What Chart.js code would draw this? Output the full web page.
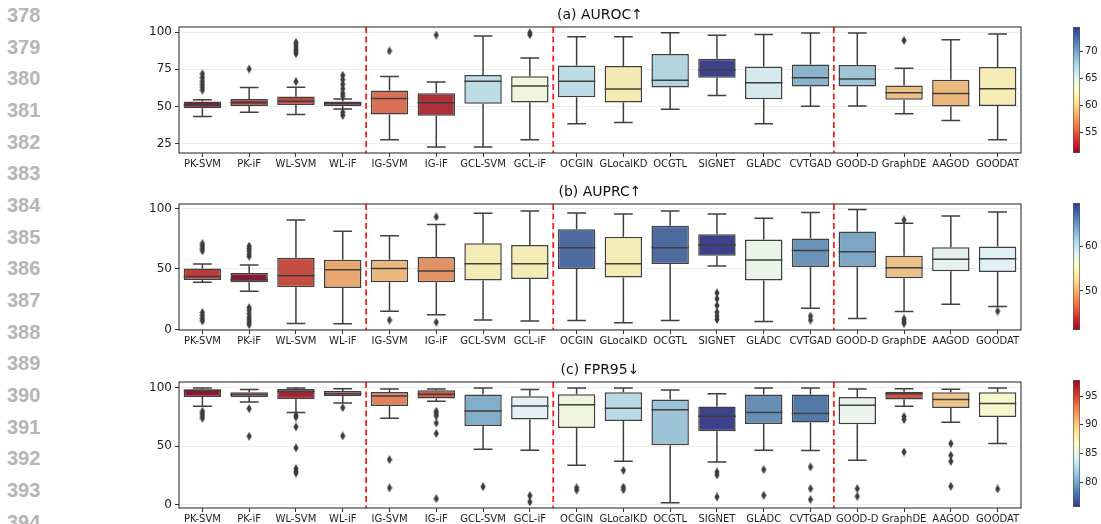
<!DOCTYPE html>
<html lang="en">
<head>
<meta charset="UTF-8">
<title>Box plots</title>
<script src="https://cdn.jsdelivr.net/npm/chart.js"></script>
<style>
  html, body { margin: 0; padding: 0; background: #fff; width: 1101px; height: 524px; overflow: hidden; }
  canvas { position: absolute; }
  .ln { position: absolute; left: 7px; font: bold 20px "Liberation Sans", Arial, sans-serif; color: #b5b5b5; line-height: 20px; }
</style>
</head>
<body>
<canvas id="chartA" width="900" height="175" style="left:130px;top:0px"></canvas>
<canvas id="chartB" width="900" height="175" style="left:130px;top:177px"></canvas>
<canvas id="chartC" width="900" height="175" style="left:130px;top:355px"></canvas>
<canvas id="barA" width="32" height="142" style="left:1073px;top:19px"></canvas>
<canvas id="barB" width="32" height="143" style="left:1073px;top:195px"></canvas>
<canvas id="barC" width="32" height="143" style="left:1073px;top:372px"></canvas>
<script>
// methods on the x axis
const methods = ['PK-SVM', 'PK-iF', 'WL-SVM', 'WL-iF', 'IG-SVM', 'IG-iF', 'GCL-SVM', 'GCL-iF', 'OCGIN', 'GLocalKD',
  'OCGTL', 'SIGNET', 'GLADC', 'CVTGAD', 'GOOD-D', 'GraphDE', 'AAGOD', 'GOODAT'];
// group separators (dashed red lines sit before these indices)
const groupStarts = [4, 8, 14];

// (a) AUROC
const aurocLow = [43.3, 46.2, 44.6, 48.4, 27.7, 22.8, 22.8, 27.7, 38.4, 39.3, 48.2, 57.4, 38.4, 50.2, 50.4, 45.1, 40.6, 27.7];
const aurocQ1 = [48.9, 50.4, 51.1, 50.4, 44.6, 43.8, 51.8, 52.7, 56.3, 52.7, 62.7, 69.4, 54.9, 63.4, 63.4, 54.5, 50.0, 50.4];
const aurocMed = [51.1, 52.7, 53.6, 52.0, 55.4, 52.5, 67.0, 63.8, 67.0, 61.8, 67.6, 74.6, 65.9, 69.4, 68.5, 59.2, 58.7, 62.0];
const aurocQ3 = [53.3, 55.1, 56.7, 53.3, 60.7, 58.9, 71.2, 70.3, 77.5, 77.2, 85.3, 82.1, 76.8, 78.3, 77.9, 64.1, 67.9, 76.6];
const aurocHigh = [54.5, 62.7, 62.9, 55.1, 70.1, 66.5, 97.3, 82.6, 96.9, 96.9, 99.6, 97.8, 98.4, 99.3, 99.3, 75.7, 94.9, 98.7];
const aurocOut = [[72, 69.5, 67, 65, 63, 61], [75.2], [93, 91.5, 90, 88.5, 87, 85.5, 66.7], [71, 68, 65, 62, 59, 57, 46.2, 44],
  [87.3], [98], [], [99.5, 98.2], [], [], [], [], [], [], [], [94.4], [], []];
const aurocTicks = [25, 50, 75, 100];
const aurocBarTicks = [55, 60, 65, 70];

// (b) AUPRC
const auprcLow = [39, 31.6, 4.9, 4.7, 15.1, 12.1, 7.7, 6.9, 7.4, 5.5, 7.4, 52.5, 6.6, 17.6, 9.1, 14.8, 20.9, 19];
const auprcQ1 = [40.9, 39, 34.9, 34.3, 39, 39, 40.4, 41.8, 50, 42.9, 54.1, 61, 40.4, 51.6, 51.4, 42.3, 48.1, 47.5];
const auprcMed = [43.7, 41.2, 44.5, 49.4, 50.5, 48.3, 54.4, 54.4, 67.6, 54.4, 67.6, 69.8, 57.4, 65.4, 64.3, 51.1, 58, 58.5];
const auprcQ3 = [50.5, 46.7, 59.3, 57.7, 57.7, 59.9, 71.4, 69.8, 83, 76.6, 85.7, 78.8, 74.4, 75.3, 81, 61, 68.1, 68.7];
const auprcHigh = [54.1, 53.3, 90.6, 81.3, 77.5, 86.8, 96.1, 98, 96.4, 95.6, 98, 95.6, 92, 96.7, 99.2, 87.9, 93.9, 97.2];
const auprcOut = [[71, 69, 67, 65, 14, 11.5, 9, 7], [69, 67, 65, 62.5, 60.5, 18, 16, 13, 10, 8, 6, 4], [], [], [7.7], [93.1, 6],
  [], [], [], [], [], [30.2, 25.3, 19.8, 14.3, 11, 8.2], [], [11, 7.7], [], [90.6, 8.8, 6.5, 5], [], [15.1]];
const auprcTicks = [0, 50, 100];
const auprcBarTicks = [50, 60];

// (c) FPR95
const fprLow = [84.3, 88, 78.9, 87.1, 74, 88.6, 47.4, 46.6, 33.7, 37.1, 1.7, 36.6, 46.6, 46.3, 38, 84.3, 70.6, 52.3];
const fprQ1 = [92.3, 92.3, 90.3, 93.1, 84.6, 90.9, 67.4, 72.9, 65.7, 71.7, 50.9, 62.9, 69.1, 70.3, 68.9, 90, 82.9, 75.1];
const fprMed = [97.8, 94.3, 97, 95.1, 93, 94.6, 80.3, 84.6, 85.7, 82.6, 81.4, 75.7, 78.9, 78, 85.1, 95, 90, 86.6];
const fprQ3 = [98.9, 96.3, 99.1, 97.4, 96.6, 98, 94.3, 92.9, 94.6, 96.3, 90, 84, 94.3, 94.3, 92.3, 96.8, 96.3, 96.3];
const fprHigh = [100, 98.6, 100, 99.4, 99.1, 99.1, 100, 98.6, 100, 100, 98.3, 95.1, 100, 100, 99.1, 99.4, 98.9, 100];
const fprOut = [[80, 78, 76, 74], [82.3, 58.6], [76.6, 75, 66.6, 48.6, 30.9, 28.6, 27], [83.1, 58.9], [38.6, 14.3],
  [80, 78, 76, 70, 61, 5.1], [15.4], [7.7, 2.3], [14.5, 12.5], [29.4, 15, 12.8], [], [28, 25.5, 6.6], [30, 8],
  [32.3, 13.7, 4.3], [13.7, 7.1], [75.5, 73, 45.1], [52.3, 42.3, 37.1, 15.7], [13.4]];
const fprTicks = [0, 50, 100];
const fprBarTicks = [80, 85, 90, 95];

Chart.defaults.font.family = '"DejaVu Sans", sans-serif';
Chart.defaults.color = '#222';

// RdYlBu colormap
const RDYLBU = ['#a50026', '#d73027', '#f46d43', '#fdae61', '#fee090', '#ffffbf', '#e0f3f8', '#abd9e9', '#74add1', '#4575b4', '#313695'];
function hexRgb(h) { return [1, 3, 5].map(i => parseInt(h.substr(i, 2), 16)); }
function cmap(t) {
    t = Math.max(0, Math.min(1, t));
    const pos = t * 10, i = Math.min(9, Math.floor(pos)), f = pos - i;
    const a = hexRgb(RDYLBU[i]), b = hexRgb(RDYLBU[i + 1]);
    return a.map((v, k) => v + (b[k] - v) * f);
}
// seaborn-like desaturation
function desat(rgb, prop) {
    let [r, g, b] = rgb.map(v => v / 255);
    const mx = Math.max(r, g, b), mn = Math.min(r, g, b);
    const l = (mx + mn) / 2;
    let h = 0, s = 0;
    if (mx !== mn) {
        const d = mx - mn;
        s = l > 0.5 ? d / (2 - mx - mn) : d / (mx + mn);
        if (mx === r) h = (g - b) / d + (g < b ? 6 : 0);
        else if (mx === g) h = (b - r) / d + 2;
        else h = (r - g) / d + 4;
        h /= 6;
    }
    s *= prop;
    function hue(p, q, t) {
        if (t < 0) t += 1; if (t > 1) t -= 1;
        if (t < 1 / 6) return p + (q - p) * 6 * t;
        if (t < 1 / 2) return q;
        if (t < 2 / 3) return p + (q - p) * (2 / 3 - t) * 6;
        return p;
    }
    const q = l < 0.5 ? l * (1 + s) : l + s - l * s, p = 2 * l - q;
    const out = s === 0 ? [l, l, l] : [hue(p, q, h + 1 / 3), hue(p, q, h), hue(p, q, h - 1 / 3)];
    return 'rgb(' + out.map(v => Math.round(v * 255)).join(',') + ')';
}

// thin diamond marker for outliers
function makeDiamond() {
    const c = document.createElement('canvas');
    c.width = 6; c.height = 9;
    const g = c.getContext('2d');
    g.fillStyle = '#3d3d3d';
    g.beginPath();
    g.moveTo(3, 0); g.lineTo(5.6, 4.5); g.lineTo(3, 9); g.lineTo(0.4, 4.5); g.closePath();
    g.fill();
    return c;
}
const diamond = makeDiamond();

const panels = [
    { canvas: 'chartA', bar: 'barA', title: '(a) AUROC\u2191', low: aurocLow, q1: aurocQ1, med: aurocMed, q3: aurocQ3, high: aurocHigh,
      out: aurocOut, ticks: aurocTicks, barTicks: aurocBarTicks, min: 18.8, max: 103.4, reversed: false },
    { canvas: 'chartB', bar: 'barB', title: '(b) AUPRC\u2191', low: auprcLow, q1: auprcQ1, med: auprcMed, q3: auprcQ3, high: auprcHigh,
      out: auprcOut, ticks: auprcTicks, barTicks: auprcBarTicks, min: -0.5, max: 103.8, reversed: false },
    { canvas: 'chartC', bar: 'barC', title: '(c) FPR95\u2193', low: fprLow, q1: fprQ1, med: fprMed, q3: fprQ3, high: fprHigh,
      out: fprOut, ticks: fprTicks, barTicks: fprBarTicks, min: -2.9, max: 105.1, reversed: true }
];

function boxPlugin(p) {
    return {
        id: 'boxExtras',
        beforeDatasetsDraw(chart) {
            const ctx = chart.ctx, y = chart.scales.y;
            const bars = chart.getDatasetMeta(0).data;
            ctx.save();
            ctx.strokeStyle = '#3f3f3f';
            ctx.lineWidth = 1.5;
            bars.forEach((b, i) => {
                const hw = b.width / 4;
                const yl = y.getPixelForValue(p.low[i]), yh = y.getPixelForValue(p.high[i]);
                ctx.beginPath();
                ctx.moveTo(b.x, y.getPixelForValue(p.q1[i])); ctx.lineTo(b.x, yl);
                ctx.moveTo(b.x, y.getPixelForValue(p.q3[i])); ctx.lineTo(b.x, yh);
                ctx.moveTo(b.x - hw, yl); ctx.lineTo(b.x + hw, yl);
                ctx.moveTo(b.x - hw, yh); ctx.lineTo(b.x + hw, yh);
                ctx.stroke();
            });
            ctx.restore();
        },
        afterDatasetsDraw(chart) {
            const ctx = chart.ctx, y = chart.scales.y, x = chart.scales.x, area = chart.chartArea;
            const bars = chart.getDatasetMeta(0).data;
            ctx.save();
            // medians
            ctx.strokeStyle = '#3f3f3f';
            ctx.lineWidth = 1.5;
            bars.forEach((b, i) => {
                const ym = y.getPixelForValue(p.med[i]);
                ctx.beginPath();
                ctx.moveTo(b.x - b.width / 2, ym); ctx.lineTo(b.x + b.width / 2, ym);
                ctx.stroke();
            });
            // group separators
            ctx.strokeStyle = '#ff1f1f';
            ctx.lineWidth = 1.8;
            ctx.setLineDash([6, 3.5]);
            groupStarts.forEach(s => {
                const px = (x.getPixelForValue(s - 1) + x.getPixelForValue(s)) / 2;
                ctx.beginPath();
                ctx.moveTo(px, area.top); ctx.lineTo(px, area.bottom);
                ctx.stroke();
            });
            ctx.setLineDash([]);
            // frame
            ctx.strokeStyle = '#333';
            ctx.lineWidth = 1.1;
            ctx.strokeRect(area.left, area.top, area.right - area.left, area.bottom - area.top);
            // title
            ctx.fillStyle = '#111';
            ctx.font = '14px "DejaVu Sans", sans-serif';
            ctx.textAlign = 'center';
            ctx.textBaseline = 'middle';
            ctx.fillText(p.title, (area.left + area.right) / 2, area.top - 12);
            ctx.restore();
        }
    };
}

panels.forEach(p => {
    const vmin = Math.min(...p.med), vmax = Math.max(...p.med);
    const fills = p.med.map(m => {
        const t = (m - vmin) / (vmax - vmin);
        return desat(cmap(p.reversed ? 1 - t : t), 0.75);
    });
    const outliers = [];
    p.out.forEach((vals, i) => vals.forEach(v => outliers.push({ x: methods[i], y: v })));

    new Chart(document.getElementById(p.canvas), {
        type: 'bar',
        data: {
            labels: methods,
            datasets: [
                {
                    data: methods.map((_, i) => [p.q1[i], p.q3[i]]),
                    backgroundColor: fills,
                    borderColor: '#3f3f3f',
                    borderWidth: 1.5,
                    borderSkipped: false,
                    barPercentage: 0.8,
                    categoryPercentage: 1,
                    order: 2
                },
                {
                    type: 'line',
                    data: outliers,
                    showLine: false,
                    pointStyle: diamond,
                    pointRadius: 4,
                    order: 1
                }
            ]
        },
        options: {
            responsive: false,
            animation: false,
            devicePixelRatio: 1,
            layout: { padding: { top: 27, right: 9, bottom: 0, left: 0 } },
            plugins: { legend: { display: false }, tooltip: { enabled: false } },
            scales: {
                x: {
                    offset: true,
                    grid: { display: true, drawOnChartArea: false, drawTicks: true, tickLength: 4, tickColor: '#333', offset: false },
                    border: { display: false },
                    ticks: { font: { size: 10 }, color: '#222', maxRotation: 0, autoSkip: false, padding: 1 },
                    afterFit: s => { s.height = 22; }
                },
                y: {
                    min: p.min,
                    max: p.max,
                    grid: { color: '#ececec', lineWidth: 1, tickLength: 4, tickColor: '#333' },
                    border: { display: false },
                    ticks: { font: { size: 12 }, color: '#222', padding: 3 },
                    afterBuildTicks: s => { s.ticks = p.ticks.map(v => ({ value: v })); },
                    afterFit: s => { s.width = 49; }
                }
            }
        },
        plugins: [boxPlugin(p)]
    });

    // colorbar
    new Chart(document.getElementById(p.bar), {
        type: 'bar',
        data: {
            labels: [''],
            datasets: [{
                data: [[vmin, vmax]],
                backgroundColor: c => {
                    const a = c.chart.chartArea;
                    if (!a) return '#ccc';
                    const g = c.chart.ctx.createLinearGradient(0, a.bottom, 0, a.top);
                    RDYLBU.forEach((col, k) => g.addColorStop(p.reversed ? 1 - k / 10 : k / 10, col));
                    return g;
                },
                borderColor: '#555',
                borderWidth: 1,
                borderSkipped: false,
                barPercentage: 1,
                categoryPercentage: 1
            }]
        },
        options: {
            responsive: false,
            animation: false,
            devicePixelRatio: 1,
            layout: { padding: { top: 8, bottom: 8, left: 0, right: 0 } },
            plugins: { legend: { display: false }, tooltip: { enabled: false } },
            scales: {
                x: { display: false },
                y: {
                    position: 'right',
                    min: vmin,
                    max: vmax,
                    grid: { drawOnChartArea: false, tickLength: 3, tickColor: '#333' },
                    border: { display: false },
                    ticks: { font: { size: 10 }, color: '#222', padding: 2 },
                    afterBuildTicks: s => { s.ticks = p.barTicks.map(v => ({ value: v })); },
                    afterFit: s => { s.width = 25; }
                }
            }
        }
    });
});

// page line numbers on the left margin
for (let n = 378; n <= 394; n++) {
    const d = document.createElement('div');
    d.className = 'ln';
    d.style.top = (5 + (n - 378) * 31.67) + 'px';
    d.textContent = n;
    document.body.appendChild(d);
}
</script>
</body>
</html>
